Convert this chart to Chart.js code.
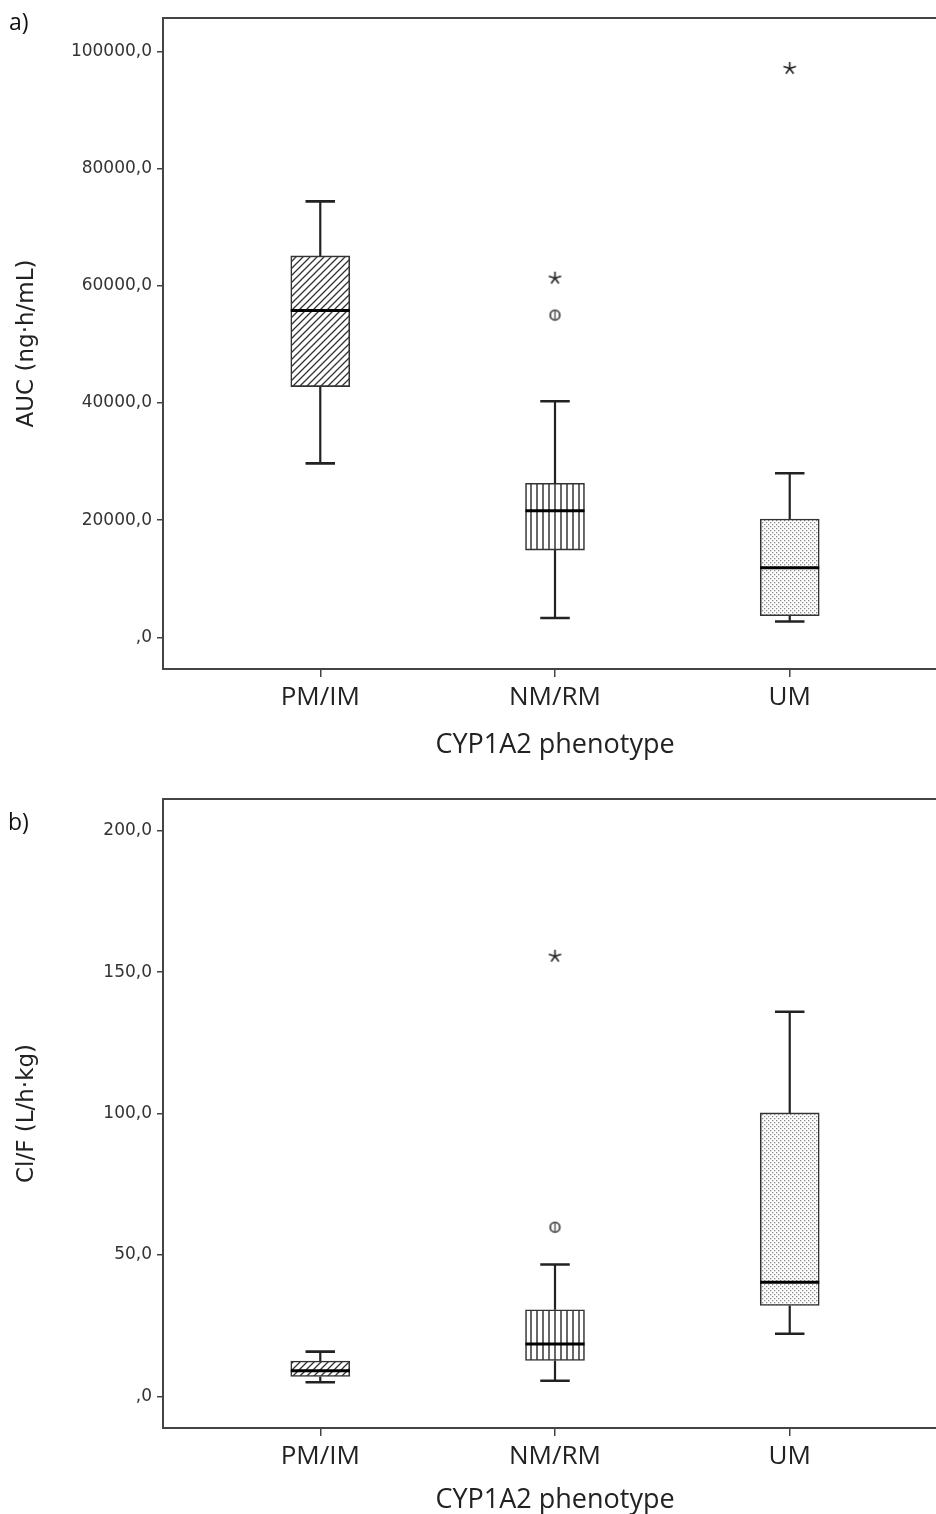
<!DOCTYPE html>
<html>
<head>
<meta charset="utf-8">
<script src="https://cdn.jsdelivr.net/npm/chart.js@4.4.1/dist/chart.umd.min.js"></script>
<style>
  body { margin: 0; background: #fff; }
  #page { position: relative; width: 936px; height: 1514px; overflow: hidden; background: #fff; }
  .panel { position: absolute; left: 0; }
  .tag { position: absolute; font-family: 'Open Sans', sans-serif; font-size: 23px; color: #111; }
</style>
</head>
<body>
<div id="page">
  <div class="panel" style="top:0"><canvas id="chartA" width="960" height="780"></canvas></div>
  <div class="panel" style="top:780px"><canvas id="chartB" width="960" height="737"></canvas></div>
  <div class="tag" style="left:9px;top:5px">a)</div>
  <div class="tag" style="left:8px;top:805px">b)</div>
</div>
<script>
// groups on the x axis
const categories = ['PM/IM', 'NM/RM', 'UM'];

// a) AUC (ng·h/mL)
const aucMin = [29700, 3300, 2700];
const aucQ1 = [42800, 14900, 3700];
const aucMedian = [55800, 21600, 11900];
const aucQ3 = [65100, 26300, 20200];
const aucMax = [74400, 40300, 28000];
const aucOutliers = [[], [55000], []];
const aucExtremes = [[], [61300], [97100]];
const aucTicks = [0, 20000, 40000, 60000, 80000, 100000];
const aucTickLabels = [',0', '20000,0', '40000,0', '60000,0', '80000,0', '100000,0'];

// b) Cl/F (L/h·kg)
const clMin = [5.0, 5.5, 22.1];
const clQ1 = [7.0, 12.7, 32.1];
const clMedian = [9.0, 18.5, 40.3];
const clQ3 = [12.5, 30.6, 100.2];
const clMax = [15.8, 46.6, 136.0];
const clOutliers = [[], [59.8], []];
const clExtremes = [[], [155.6], []];
const clTicks = [0, 50, 100, 150, 200];
const clTickLabels = [',0', '50,0', '100,0', '150,0', '200,0'];

const ink = '#222';

// fill patterns, one per group
function makePattern(kind) {
    const c = document.createElement('canvas');
    const g = c.getContext('2d');
    if (kind === 'diag') {
        c.width = 7; c.height = 7;
        g.fillStyle = '#fff'; g.fillRect(0, 0, 7, 7);
        g.strokeStyle = '#333'; g.lineWidth = 1.3;
        g.beginPath();
        g.moveTo(-1, 8); g.lineTo(8, -1);
        g.moveTo(-1, 1); g.lineTo(1, -1);
        g.moveTo(6, 8); g.lineTo(8, 6);
        g.stroke();
    } else if (kind === 'vert') {
        c.width = 6; c.height = 6;
        g.fillStyle = '#fff'; g.fillRect(0, 0, 6, 6);
        g.fillStyle = '#444'; g.fillRect(2.2, 0, 1.6, 6);
    } else {
        c.width = 4; c.height = 4;
        g.fillStyle = '#fff'; g.fillRect(0, 0, 4, 4);
        g.fillStyle = '#8a8a8a';
        g.fillRect(0, 0, 1.3, 1.3);
        g.fillRect(2, 2, 1.3, 1.3);
    }
    return g.createPattern(c, 'repeat');
}
const fills = [makePattern('diag'), makePattern('vert'), makePattern('dots')];

// marker images for outliers
function circleMark() {
    const c = document.createElement('canvas');
    c.width = 15; c.height = 15;
    const g = c.getContext('2d');
    g.strokeStyle = '#444'; g.lineWidth = 1.8;
    g.beginPath(); g.arc(7.5, 7.5, 4.8, 0, Math.PI * 2); g.stroke();
    g.lineWidth = 1.3;
    g.beginPath(); g.moveTo(7.5, 3.5); g.lineTo(7.5, 11.5); g.stroke();
    return c;
}
function starMark() {
    const c = document.createElement('canvas');
    c.width = 17; c.height = 17;
    const g = c.getContext('2d');
    g.strokeStyle = '#222'; g.lineWidth = 1.6;
    g.beginPath();
    for (let k = 0; k < 5; k++) {
        const a = -Math.PI / 2 + k * 2 * Math.PI / 5;
        g.moveTo(8.5, 8.5);
        g.lineTo(8.5 + 6.5 * Math.cos(a), 8.5 + 6.5 * Math.sin(a));
    }
    g.stroke();
    return c;
}
const circleImg = circleMark();
const starImg = starMark();

// whiskers, caps and medians drawn through the chart scales
function boxPlugin(mins, medians, maxs) {
    return {
        id: 'boxDecor',
        afterDatasetsDraw(chart) {
            const ctx = chart.ctx;
            const x = chart.scales.x, y = chart.scales.y;
            const bars = chart.getDatasetMeta(0).data;
            ctx.save();
            categories.forEach((cat, i) => {
                const cx = x.getPixelForValue(i);
                const half = bars[i].width / 2;
                const boxTop = Math.min(bars[i].y, bars[i].base);
                const boxBot = Math.max(bars[i].y, bars[i].base);
                const yMax = y.getPixelForValue(maxs[i]);
                const yMin = y.getPixelForValue(mins[i]);
                ctx.strokeStyle = ink;
                ctx.lineWidth = 2.2;
                ctx.beginPath();
                ctx.moveTo(cx, boxTop); ctx.lineTo(cx, yMax);
                ctx.moveTo(cx, boxBot); ctx.lineTo(cx, yMin);
                ctx.stroke();
                ctx.lineWidth = 2.6;
                ctx.beginPath();
                ctx.moveTo(cx - half / 2, yMax); ctx.lineTo(cx + half / 2, yMax);
                ctx.moveTo(cx - half / 2, yMin); ctx.lineTo(cx + half / 2, yMin);
                ctx.stroke();
                const ym = y.getPixelForValue(medians[i]);
                ctx.strokeStyle = '#000';
                ctx.lineWidth = 3;
                ctx.beginPath();
                ctx.moveTo(cx - half, ym); ctx.lineTo(cx + half, ym);
                ctx.stroke();
            });
            ctx.restore();
        }
    };
}

const frame = {
    id: 'frame',
    afterDraw(chart) {
        const a = chart.chartArea;
        const ctx = chart.ctx;
        ctx.save();
        ctx.strokeStyle = '#444';
        ctx.lineWidth = 2;
        ctx.strokeRect(a.left, a.top, a.right - a.left, a.bottom - a.top);
        ctx.restore();
    }
};

function points(groups) {
    const out = [];
    groups.forEach((vals, i) => vals.forEach(v => out.push({ x: i, y: v })));
    return out;
}

function buildChart(id, s) {
    const boxes = categories.map((c, i) => ({ x: i, y: [s.q1[i], s.q3[i]] }));
    new Chart(document.getElementById(id), {
        type: 'bar',
        data: {
            datasets: [
                {
                    type: 'bar',
                    data: boxes,
                    backgroundColor: fills,
                    borderColor: '#333',
                    borderWidth: 1.6,
                    borderSkipped: false,
                    barThickness: 59
                },
                {
                    type: 'scatter',
                    data: points(s.outliers),
                    pointStyle: circleImg
                },
                {
                    type: 'scatter',
                    data: points(s.extremes),
                    pointStyle: starImg
                }
            ]
        },
        options: {
            responsive: false,
            animation: false,
            layout: { padding: { top: s.padTop, left: 0, right: 13, bottom: 0 } },
            plugins: { legend: { display: false }, tooltip: { enabled: false } },
            scales: {
                x: {
                    type: 'linear',
                    offset: false,
                    min: -0.67,
                    max: 2.67,
                    afterBuildTicks: (scale) => { scale.ticks = categories.map((c, i) => ({ value: i })); },
                    afterFit: (scale) => { scale.height = s.xHeight; },
                    grid: { display: true, offset: false, drawOnChartArea: false, tickLength: 8, color: '#444', lineWidth: 1.5 },
                    border: { display: true, color: '#444', width: 2 },
                    ticks: {
                        padding: 5,
                        color: '#222',
                        font: { family: 'Open Sans', size: 26 },
                        callback: (v) => categories[v]
                    },
                    title: {
                        display: true,
                        text: 'CYP1A2 phenotype',
                        color: '#222',
                        font: { family: 'Open Sans', size: 27 },
                        padding: { top: 0, bottom: s.xTitlePad }
                    }
                },
                y: {
                    min: s.yMin,
                    max: s.yMax,
                    afterBuildTicks: (scale) => { scale.ticks = s.ticks.map(v => ({ value: v })); },
                    afterFit: (scale) => { scale.width = 163; },
                    grid: { display: true, drawOnChartArea: false, tickLength: 6, color: '#444', lineWidth: 1.5 },
                    border: { display: true, color: '#444', width: 2 },
                    ticks: {
                        padding: 5,
                        color: '#333',
                        font: { family: 'DejaVu Sans', size: 17 },
                        callback: (v) => s.tickLabels[s.ticks.indexOf(v)]
                    },
                    title: {
                        display: true,
                        text: s.title,
                        color: '#222',
                        font: { family: 'DejaVu Sans', size: 23 },
                        padding: { top: 13, bottom: 0 }
                    }
                }
            }
        },
        plugins: [boxPlugin(s.min, s.median, s.max), frame]
    });
}

buildChart('chartA', {
    q1: aucQ1, q3: aucQ3, min: aucMin, max: aucMax, median: aucMedian,
    outliers: aucOutliers, extremes: aucExtremes,
    ticks: aucTicks, tickLabels: aucTickLabels,
    yMin: -5400, yMax: 105700,
    title: 'AUC (ng·h/mL)',
    padTop: 18, xHeight: 111, xTitlePad: 18
});

buildChart('chartB', {
    q1: clQ1, q3: clQ3, min: clMin, max: clMax, median: clMedian,
    outliers: clOutliers, extremes: clExtremes,
    ticks: clTicks, tickLabels: clTickLabels,
    yMin: -11.2, yMax: 211.2,
    title: 'Cl/F (L/h·kg)',
    padTop: 19, xHeight: 89, xTitlePad: 0
});
</script>
</body>
</html>
